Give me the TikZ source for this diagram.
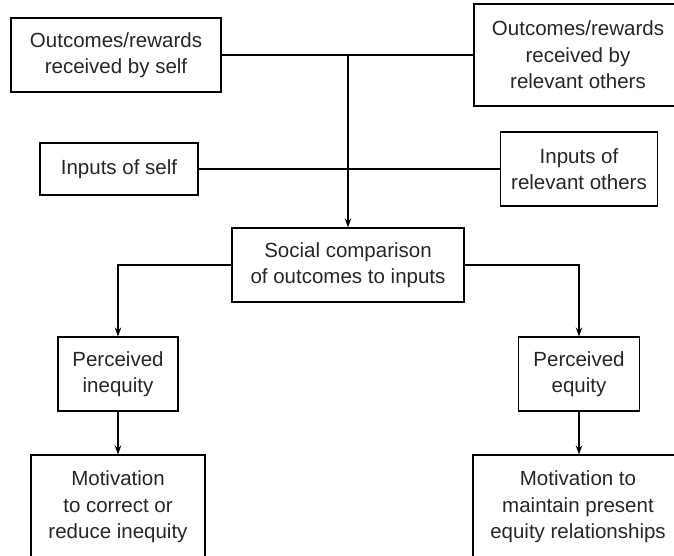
\documentclass[tikz,border=0pt]{standalone}
\usepackage{fontspec}
\setmainfont{Liberation Sans}
\usetikzlibrary{arrows.meta,positioning,calc}

\tikzset{
  box/.style={draw, line width=1.1pt, align=center, inner sep=0pt,
              font=\fontsize{20.5}{26.5}\selectfont, text=black!85},
  conn/.style={line width=1.1pt},
  flow/.style={conn, -{Stealth[length=9pt,width=6.5pt]}}
}

\begin{document}
\begin{tikzpicture}[x=1pt,y=-1pt]
\useasboundingbox (0,0) rectangle (674,555);
\clip (0,0) rectangle (674,555);

% inputs and outcomes
\node[box, minimum width=210pt, minimum height=74pt] (selfout) at (116,55) {Outcomes/rewards\\received by self};
\node[box, minimum width=208pt, minimum height=102pt] (otherout) at (578,55) {Outcomes/rewards\\received by\\relevant others};
\node[box, minimum width=158pt, minimum height=52pt] (selfin) at (119,169) {Inputs of self};
\node[box, minimum width=157pt, minimum height=74pt] (otherin) at (579,169) {Inputs of\\relevant others};

% comparison
\node[box, minimum width=232pt, minimum height=74pt] (compare) at (348,265) {Social comparison\\of outcomes to inputs};

% results
\node[box, minimum width=120pt, minimum height=74pt] (inequity) at (118,374) {Perceived\\inequity};
\node[box, minimum width=121pt, minimum height=74pt] (equity) at (579,374) {Perceived\\equity};
\node[box, minimum width=174pt, minimum height=104pt] (motivin) at (118,507) {Motivation\\to correct or\\reduce inequity};
\node[box, minimum width=210pt, minimum height=104pt] (motivout) at (578,507) {Motivation to\\maintain present\\equity relationships};

% connectors
\draw[conn] (selfout.east) -- (selfout.east -| otherout.west);
\draw[conn] (selfin.east) -- (selfin.east -| otherin.west);
\draw[flow] (selfout.east -| compare.north) -- (compare.north);
\draw[flow] (compare.west) -| (inequity.north);
\draw[flow] (compare.east) -| (equity.north);
\draw[flow] (inequity.south) -- (inequity.south |- motivin.north);
\draw[flow] (equity.south) -- (equity.south |- motivout.north);
\end{tikzpicture}
\end{document}
